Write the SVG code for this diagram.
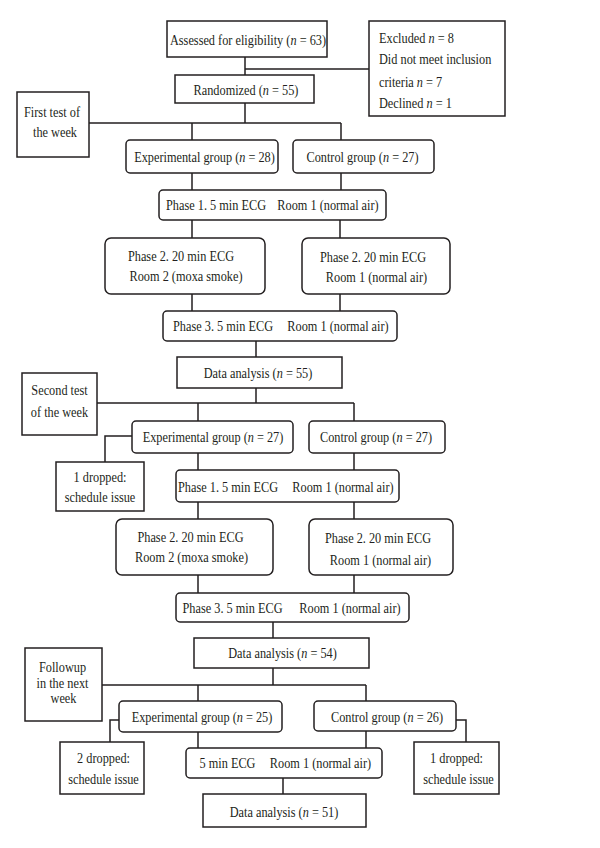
<svg xmlns="http://www.w3.org/2000/svg" width="600" height="848" viewBox="0 0 600 848">
<style>
.b{fill:#fff;stroke:#231f20;stroke-width:1.5}
.c{fill:none;stroke:#231f20;stroke-width:1.5}
text{font-family:"Liberation Serif","Times New Roman",serif;font-size:15px;fill:#231f20;text-anchor:middle}
text.l{text-anchor:start}
.i{font-style:italic}
</style>
<rect width="600" height="848" fill="#fff"/>
<g id="connectors" class="c">
<path d="M245,57V75M245,69H369M245,103V123M89,123H341M192,123V140M341,123V140"/>
<path d="M192,173V190M341,173V190M192,220V238M340,220V238M192,294V311M340,294V311M256,341V357"/>
<path d="M256,388V403M97,403H354M198,403V421M354,403V421M132,436H105V462"/>
<path d="M198,453V470M354,453V470M198,502V519M354,502V519M198,575V593M354,575V593M273,622V638"/>
<path d="M273,668V685M102,685H366M198,685V701M366,685V701M119,720H110V742M456,720H466V742"/>
<path d="M198,732V748M366,731V748M283,778V794"/>
</g>
<g id="assessed"><rect class="b" x="167" y="21" width="160" height="36"/><text transform="translate(248,45) scale(0.82,1)">Assessed for eligibility (<tspan class="i">n</tspan> = 63)</text></g>
<g id="excluded"><rect class="b" x="369" y="21" width="136" height="95"/>
<text class="l" transform="translate(379,42.5) scale(0.82,1)">Excluded <tspan class="i">n</tspan> = 8</text>
<text class="l" transform="translate(379,64) scale(0.82,1)">Did not meet inclusion</text>
<text class="l" transform="translate(379,86.5) scale(0.82,1)">criteria <tspan class="i">n</tspan> = 7</text>
<text class="l" transform="translate(379,108) scale(0.82,1)">Declined <tspan class="i">n</tspan> = 1</text></g>
<g id="randomized"><rect class="b" x="175" y="75" width="139" height="28"/><text transform="translate(246,95) scale(0.82,1)">Randomized (<tspan class="i">n</tspan> = 55)</text></g>
<g id="first-test"><rect class="b" x="17" y="92" width="72" height="65"/><text transform="translate(52,117) scale(0.82,1)">First test of</text><text transform="translate(55,137) scale(0.82,1)">the week</text></g>
<g id="exp1"><rect class="b" x="126" y="140" width="152" height="33" rx="4"/><text transform="translate(204.5,162) scale(0.82,1)">Experimental group (<tspan class="i">n</tspan> = 28)</text></g>
<g id="ctl1"><rect class="b" x="293" y="140" width="141" height="33" rx="4"/><text transform="translate(362.5,162) scale(0.82,1)">Control group (<tspan class="i">n</tspan> = 27)</text></g>
<g id="phase1a"><rect class="b" x="159" y="190" width="227" height="30" rx="4"/><text transform="translate(216,210) scale(0.82,1)">Phase 1. 5 min ECG</text><text transform="translate(328,210) scale(0.82,1)">Room 1 (normal air)</text></g>
<g id="phase2a-l"><rect class="b" x="105" y="238" width="160" height="56" rx="6"/><text transform="translate(181,261) scale(0.82,1)">Phase 2. 20 min ECG</text><text transform="translate(186,281) scale(0.82,1)">Room 2 (moxa smoke)</text></g>
<g id="phase2a-r"><rect class="b" x="302" y="238" width="148" height="56" rx="6"/><text transform="translate(373,262) scale(0.82,1)">Phase 2. 20 min ECG</text><text transform="translate(376.5,282) scale(0.82,1)">Room 1 (normal air)</text></g>
<g id="phase3a"><rect class="b" x="163" y="311" width="234" height="30" rx="4"/><text transform="translate(223,331) scale(0.82,1)">Phase 3. 5 min ECG</text><text transform="translate(338,331) scale(0.82,1)">Room 1 (normal air)</text></g>
<g id="da55"><rect class="b" x="177" y="357" width="165" height="31"/><text transform="translate(258,378) scale(0.82,1)">Data analysis (<tspan class="i">n</tspan> = 55)</text></g>
<g id="second-test"><rect class="b" x="22" y="373" width="75" height="62"/><text transform="translate(59.5,395) scale(0.82,1)">Second test</text><text transform="translate(59.5,417) scale(0.82,1)">of the week</text></g>
<g id="exp2"><rect class="b" x="132" y="421" width="161" height="32" rx="4"/><text transform="translate(213,442) scale(0.82,1)">Experimental group (<tspan class="i">n</tspan> = 27)</text></g>
<g id="ctl2"><rect class="b" x="309" y="421" width="136" height="32" rx="4"/><text transform="translate(376,442) scale(0.82,1)">Control group (<tspan class="i">n</tspan> = 27)</text></g>
<g id="drop2"><rect class="b" x="56" y="462" width="88" height="49"/><text transform="translate(100,482) scale(0.82,1)">1 dropped:</text><text transform="translate(100,502) scale(0.82,1)">schedule issue</text></g>
<g id="phase1b"><rect class="b" x="176" y="470" width="223" height="32" rx="4"/><text transform="translate(228,492) scale(0.82,1)">Phase 1. 5 min ECG</text><text transform="translate(343,492) scale(0.82,1)">Room 1 (normal air)</text></g>
<g id="phase2b-l"><rect class="b" x="116" y="519" width="157" height="56" rx="6"/><text transform="translate(190.5,542) scale(0.82,1)">Phase 2. 20 min ECG</text><text transform="translate(191.5,562) scale(0.82,1)">Room 2 (moxa smoke)</text></g>
<g id="phase2b-r"><rect class="b" x="309" y="519" width="144" height="56" rx="6"/><text transform="translate(378,543) scale(0.82,1)">Phase 2. 20 min ECG</text><text transform="translate(380.5,564.5) scale(0.82,1)">Room 1 (normal air)</text></g>
<g id="phase3b"><rect class="b" x="176" y="593" width="233" height="29" rx="4"/><text transform="translate(232.5,613) scale(0.82,1)">Phase 3. 5 min ECG</text><text transform="translate(350,613) scale(0.82,1)">Room 1 (normal air)</text></g>
<g id="da54"><rect class="b" x="194" y="638" width="175" height="30"/><text transform="translate(282.5,658) scale(0.82,1)">Data analysis (<tspan class="i">n</tspan> = 54)</text></g>
<g id="followup"><rect class="b" x="25" y="648" width="77" height="73"/><text transform="translate(62.5,672) scale(0.82,1)">Followup</text><text transform="translate(62.5,688) scale(0.82,1)">in the next</text><text transform="translate(63.5,703) scale(0.82,1)">week</text></g>
<g id="exp3"><rect class="b" x="119" y="701" width="163" height="31" rx="4"/><text transform="translate(202,722) scale(0.82,1)">Experimental group (<tspan class="i">n</tspan> = 25)</text></g>
<g id="ctl3"><rect class="b" x="314" y="701" width="142" height="30" rx="4"/><text transform="translate(387,721.5) scale(0.82,1)">Control group (<tspan class="i">n</tspan> = 26)</text></g>
<g id="drop3-l"><rect class="b" x="60" y="742" width="84" height="52"/><text transform="translate(103.5,763) scale(0.82,1)">2 dropped:</text><text transform="translate(103.5,784) scale(0.82,1)">schedule issue</text></g>
<g id="drop3-r"><rect class="b" x="414" y="742" width="85" height="52"/><text transform="translate(456.5,763) scale(0.82,1)">1 dropped:</text><text transform="translate(458.5,784) scale(0.82,1)">schedule issue</text></g>
<g id="ecg3"><rect class="b" x="186" y="748" width="196" height="30" rx="4"/><text transform="translate(227.5,768) scale(0.82,1)">5 min ECG</text><text transform="translate(320.5,768) scale(0.82,1)">Room 1 (normal air)</text></g>
<g id="da51"><rect class="b" x="203" y="794" width="163" height="33"/><text transform="translate(284,817) scale(0.82,1)">Data analysis (<tspan class="i">n</tspan> = 51)</text></g>
</svg>
